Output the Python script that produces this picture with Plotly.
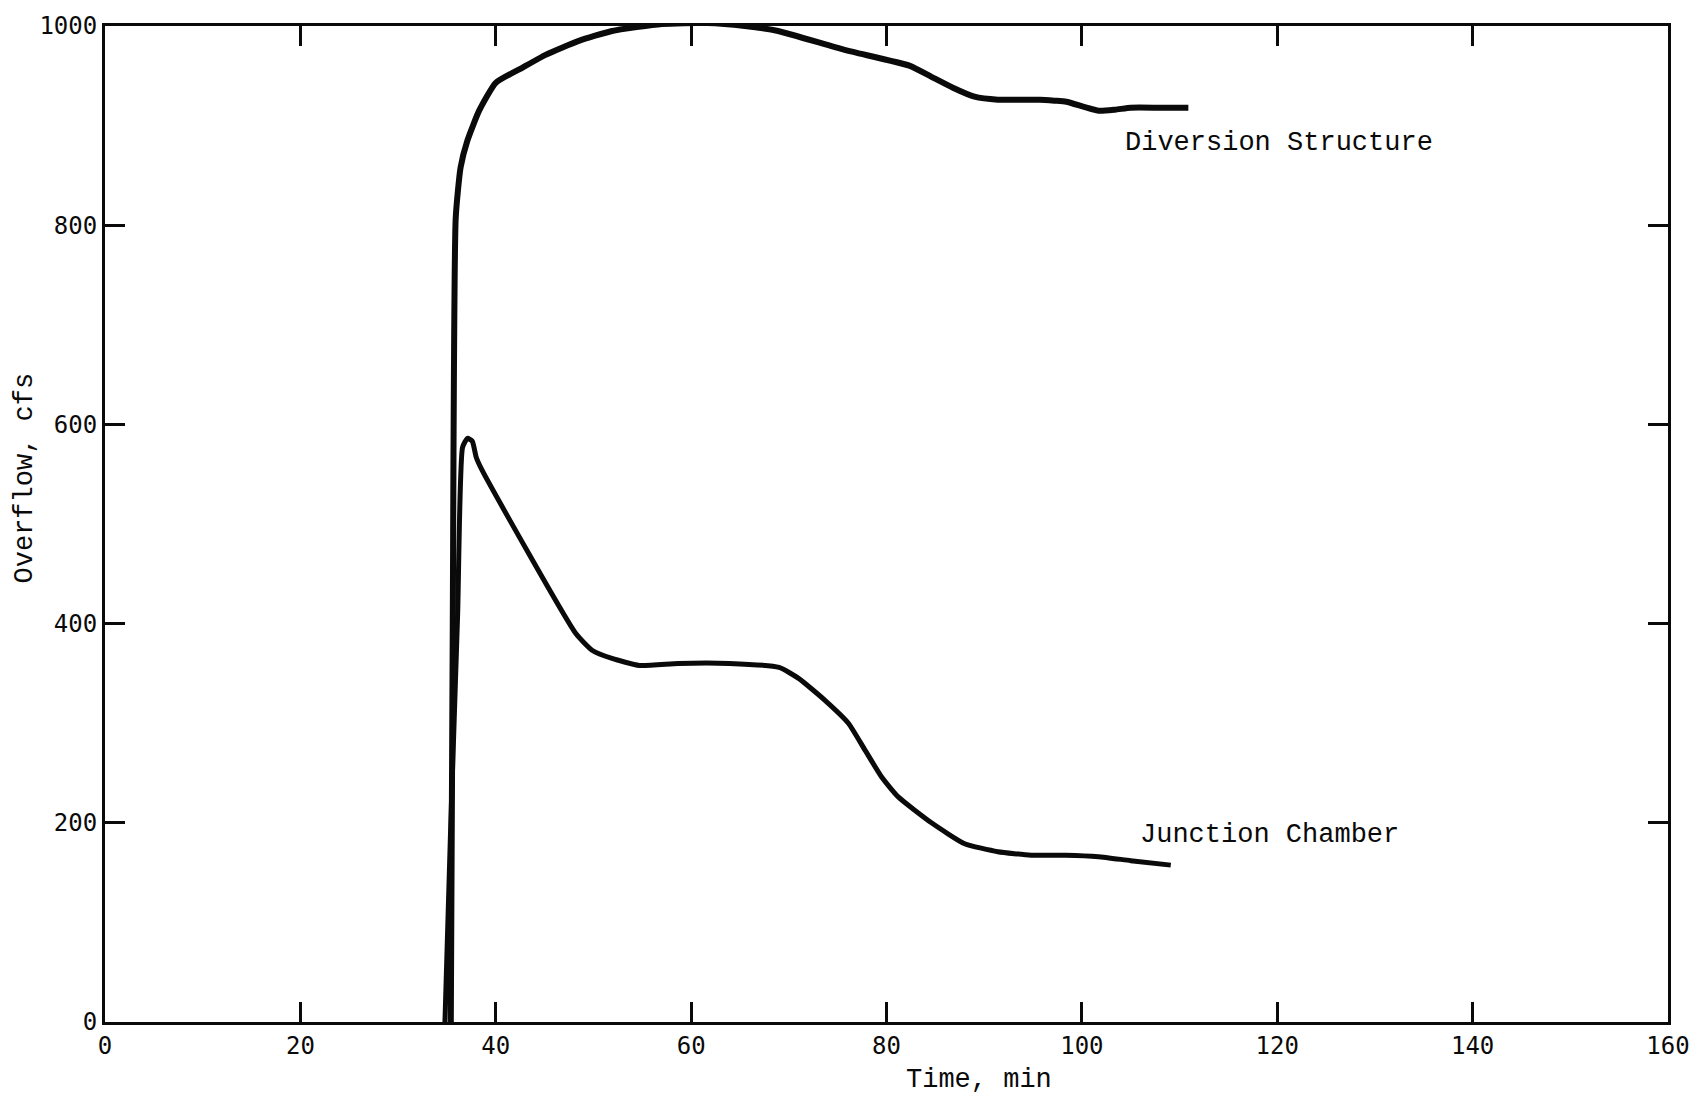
import plotly.graph_objects as go

# Diversion Structure overflow (time in min, overflow in cfs)
div_t = [35.4, 35.6, 35.9, 36.4, 37.1, 38.3, 40.0, 42.7, 45.1, 48.5, 51.9, 57.0, 61.6,
         65.5, 68.9, 75.7, 82.4, 84.6, 86.8, 89.0, 91.4, 95.7, 97.2, 98.4, 101.7, 103.4, 105.0, 108.0, 110.9]
div_q = [0, 400, 807, 858, 885, 915, 943, 958, 971, 985, 995, 1002, 1003,
         1000, 995, 976, 960, 949, 938, 929, 926, 926, 925, 924, 915, 916, 918, 918, 918]

# Junction Chamber overflow
jun_t = [34.8, 35.4, 36.1, 36.6, 37.1, 37.6, 38.0, 38.6, 48.2, 49.9, 51.9, 54.7, 58.7, 63.9,
         69.0, 71.0, 73.7, 76.1, 77.8, 79.5, 81.2, 84.6, 88.0, 91.4, 94.8, 98.3, 101.7, 105.0, 109.1]
jun_q = [0, 200, 410, 577, 586, 583, 567, 554, 390, 373, 365, 358, 360, 360,
         356, 345, 323, 300, 273, 246, 226, 200, 179, 171, 167.5, 167.5, 166, 162, 157.5]

x_ticks = [0, 20, 40, 60, 80, 100, 120, 140, 160]
y_ticks = [0, 200, 400, 600, 800, 1000]

ink = "#0a0a0a"
mono_sans = "DejaVu Sans Mono"
courier = "Liberation Mono"

fig = go.Figure()
fig.add_trace(go.Scatter(x=div_t, y=div_q, mode="lines",
                         line=dict(color=ink, width=6, shape="spline", smoothing=0.5),
                         showlegend=False))
fig.add_trace(go.Scatter(x=jun_t, y=jun_q, mode="lines",
                         line=dict(color=ink, width=5, shape="spline", smoothing=0.5),
                         showlegend=False))

axis_common = dict(showline=True, linecolor=ink, linewidth=3, mirror="ticks",
                   ticks="inside", ticklen=20, tickwidth=3, tickcolor=ink,
                   showgrid=False, zeroline=False,
                   tickfont=dict(family=mono_sans, size=24, color=ink))

fig.update_xaxes(range=[0, 160], tickvals=x_ticks, ticktext=[str(v) for v in x_ticks], **axis_common)
fig.update_yaxes(range=[0, 1000], tickvals=y_ticks, ticktext=[str(v) for v in y_ticks], **axis_common)

fig.add_annotation(x=104.2, y=883, xref="x", yref="y", text="Diversion Structure",
                   showarrow=False, xanchor="left", yanchor="middle",
                   font=dict(family=courier, size=27, color=ink))
fig.add_annotation(x=105.7, y=188, xref="x", yref="y", text="Junction Chamber",
                   showarrow=False, xanchor="left", yanchor="middle",
                   font=dict(family=courier, size=27, color=ink))
fig.add_annotation(x=0.559, y=-0.058, xref="paper", yref="paper", text="Time, min",
                   showarrow=False, xanchor="center", yanchor="middle",
                   font=dict(family=courier, size=27, color=ink))
fig.add_annotation(x=-0.051, y=0.546, xref="paper", yref="paper", text="Overflow, cfs",
                   showarrow=False, xanchor="center", yanchor="middle", textangle=-90,
                   font=dict(family=courier, size=27, color=ink))

fig.update_layout(width=1702, height=1099, paper_bgcolor="white", plot_bgcolor="white",
                  margin=dict(l=105, r=31, t=25, b=77))

fig.write_html("out.html")
